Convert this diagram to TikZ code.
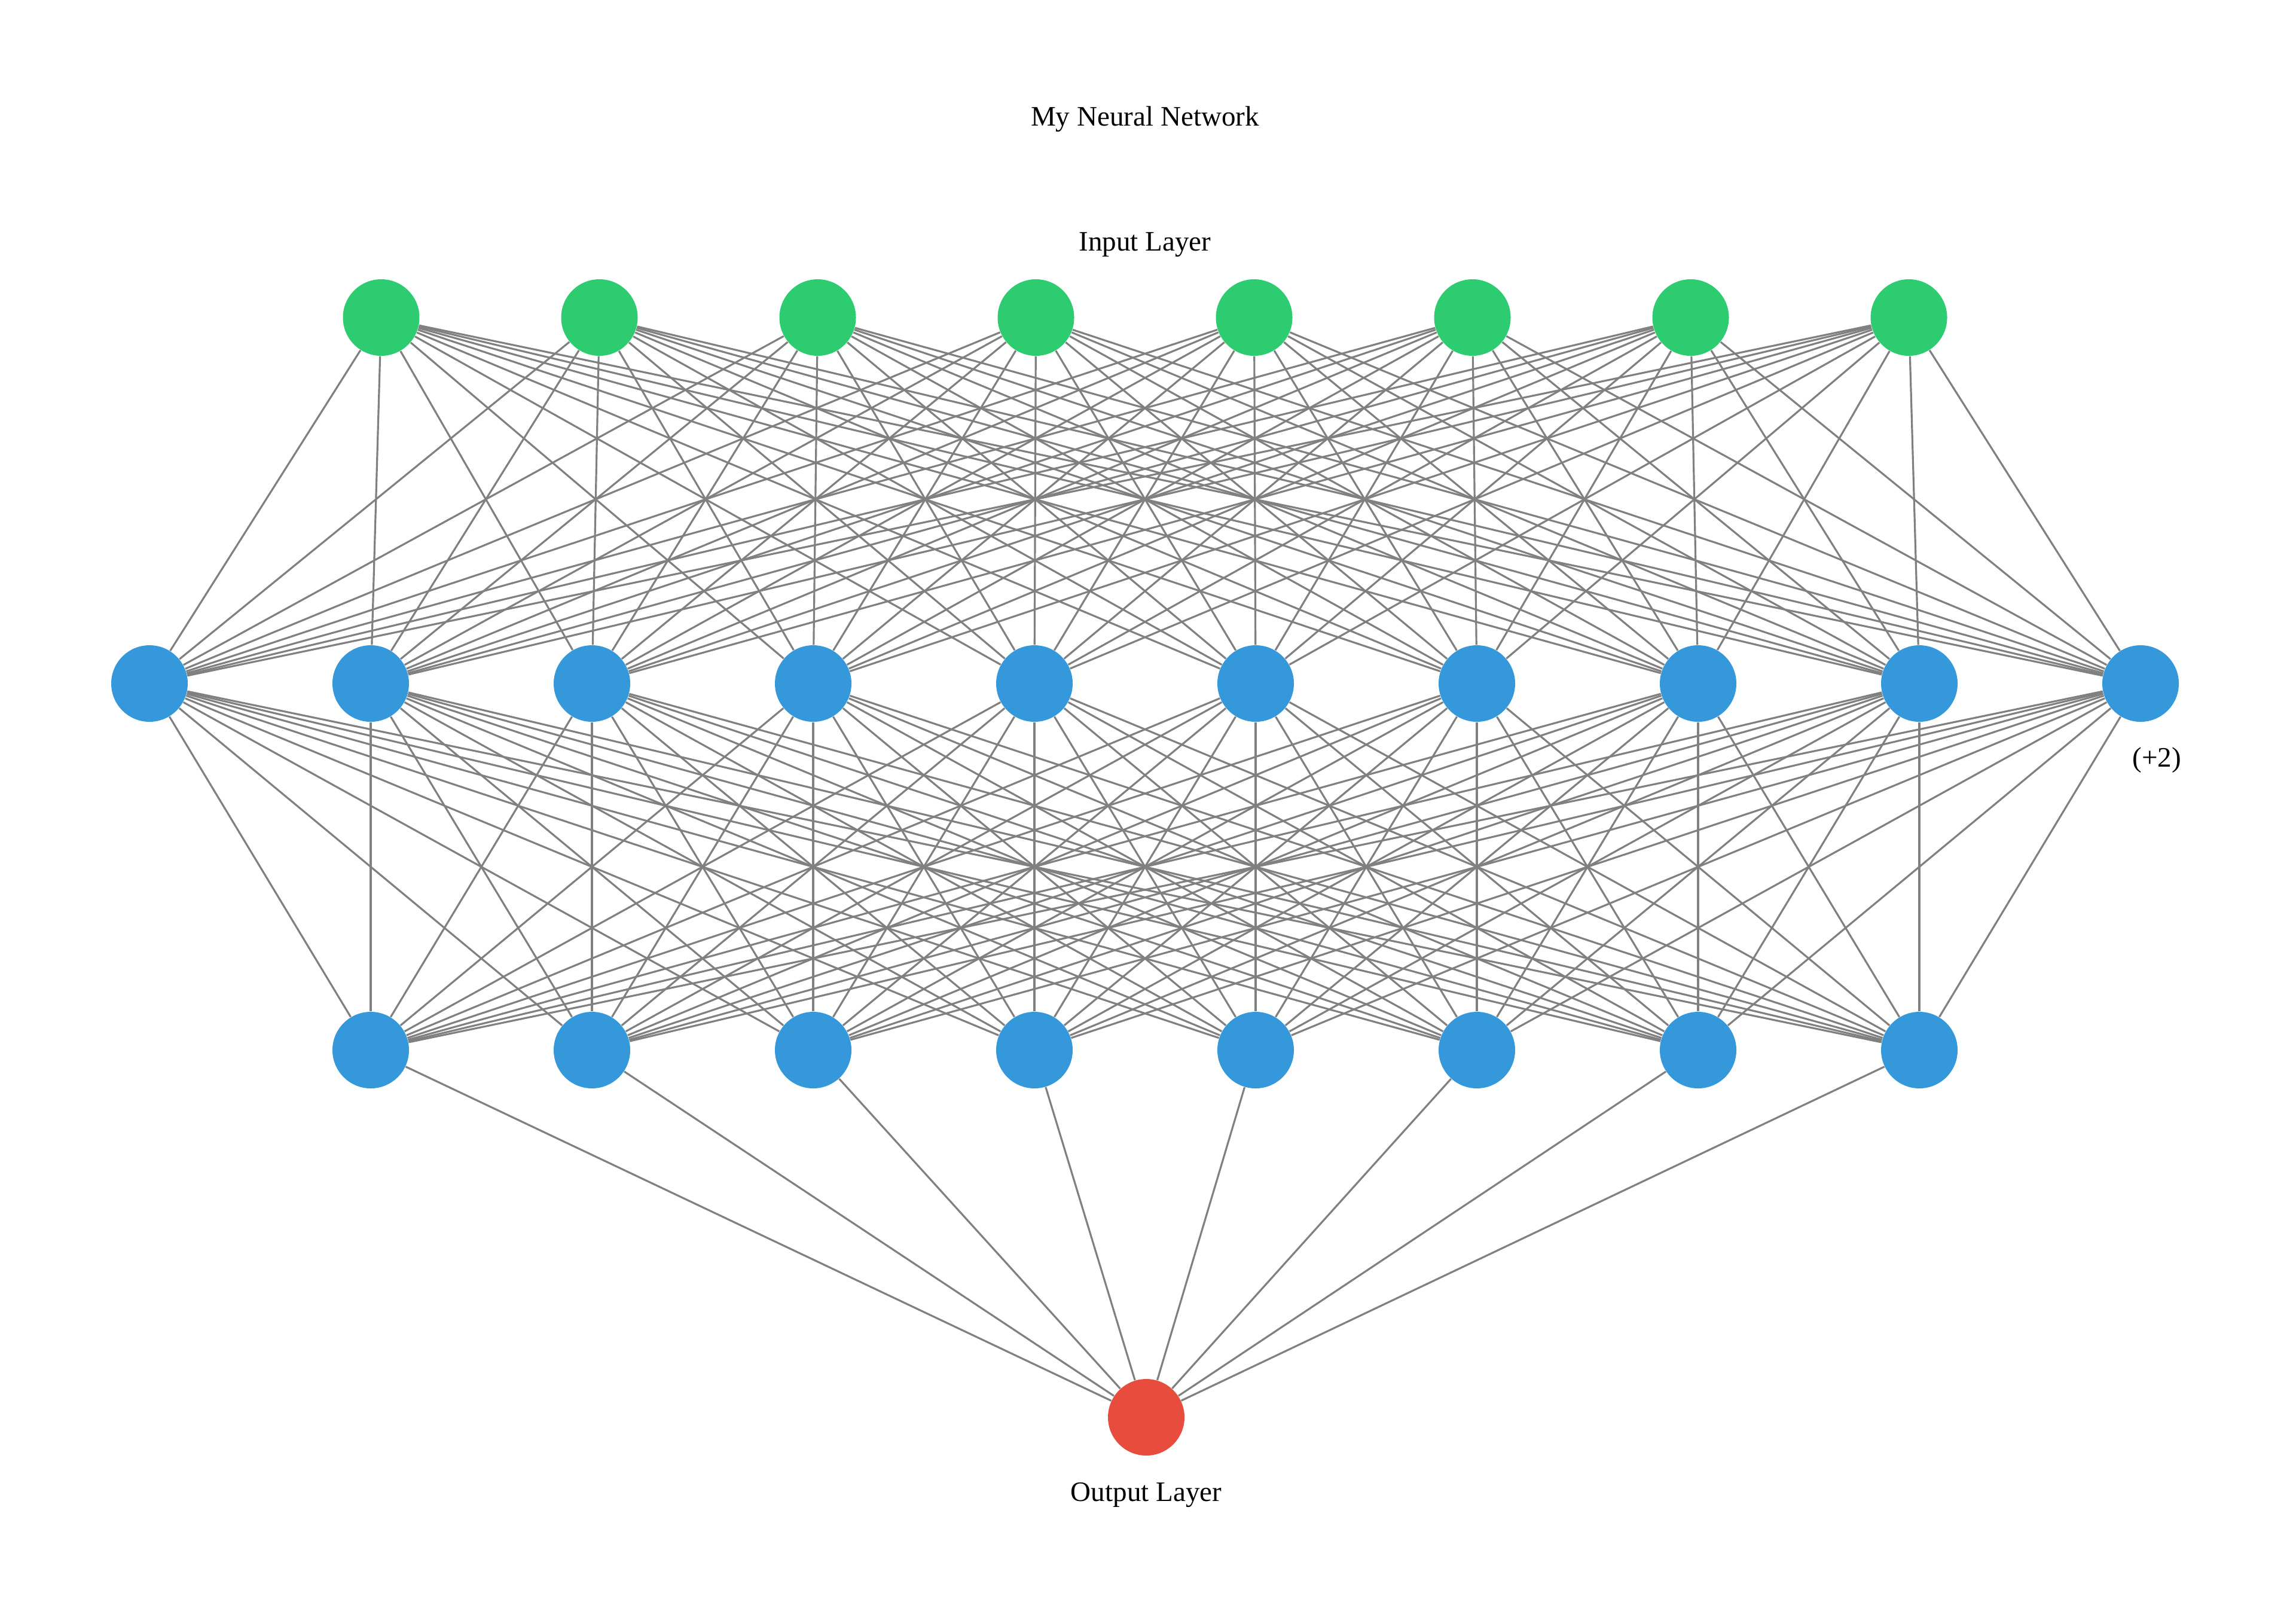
\documentclass[tikz,border=0pt]{standalone}
\usepackage{fontspec}
\setmainfont{Liberation Serif}
\usetikzlibrary{positioning}

\definecolor{inputgreen}{HTML}{2ECC71}
\definecolor{hiddenblue}{HTML}{3498DB}
\definecolor{outputred}{HTML}{E74C3C}

\begin{document}
\begin{tikzpicture}[
    neuron/.style={circle,minimum size=1.28cm,inner sep=0pt},
    innode/.style={neuron,fill=inputgreen},
    hidnode/.style={neuron,fill=hiddenblue},
    outnode/.style={neuron,fill=outputred},
    synapse/.style={draw=black!50,line width=0.9pt},
    caption/.style={font=\fontsize{13.4}{16}\selectfont,inner sep=1pt}
  ]
  \useasboundingbox (0,0) rectangle (38.40,-26.98);

  % Titles.
  \node[caption] (title) at (19.15,-1.99) {My Neural Network};
  \node[caption] (inlabel) at (19.15,-4.09) {Input Layer};

  % Input layer (8 neurons).
  \foreach \i in {1,...,8}{
      \node[innode] (in\i) at ({19.15+(\i-4.5)*3.65},-5.31) {};
  }

  % First hidden layer (10 shown).
  \foreach \i in {1,...,10}{
      \node[hidnode] (ha\i) at ({19.15+(\i-5.5)*3.70},-11.43) {};
  }

  % Second hidden layer (8 neurons).
  \foreach \i in {1,...,8}{
      \node[hidnode] (hb\i) at ({19.15+(\i-4.5)*3.70},-17.56) {};
  }

  % Output neuron.
  \node[outnode] (out) at (19.17,-23.70) {};
  \node[caption,below=0.40cm of out] (outlabel) {Output Layer};
  \node[caption,below=0.38cm of ha10,xshift=0.27cm] (more) {(+2)};

  % Fully connected weights.
  \foreach \i in {1,...,8}{
      \foreach \j in {1,...,10}{
          \draw[synapse] (in\i) -- (ha\j);
      }
  }
  \foreach \i in {1,...,10}{
      \foreach \j in {1,...,8}{
          \draw[synapse] (ha\i) -- (hb\j);
      }
  }
  \foreach \i in {1,...,8}{
      \draw[synapse] (hb\i) -- (out);
  }
\end{tikzpicture}
\end{document}
